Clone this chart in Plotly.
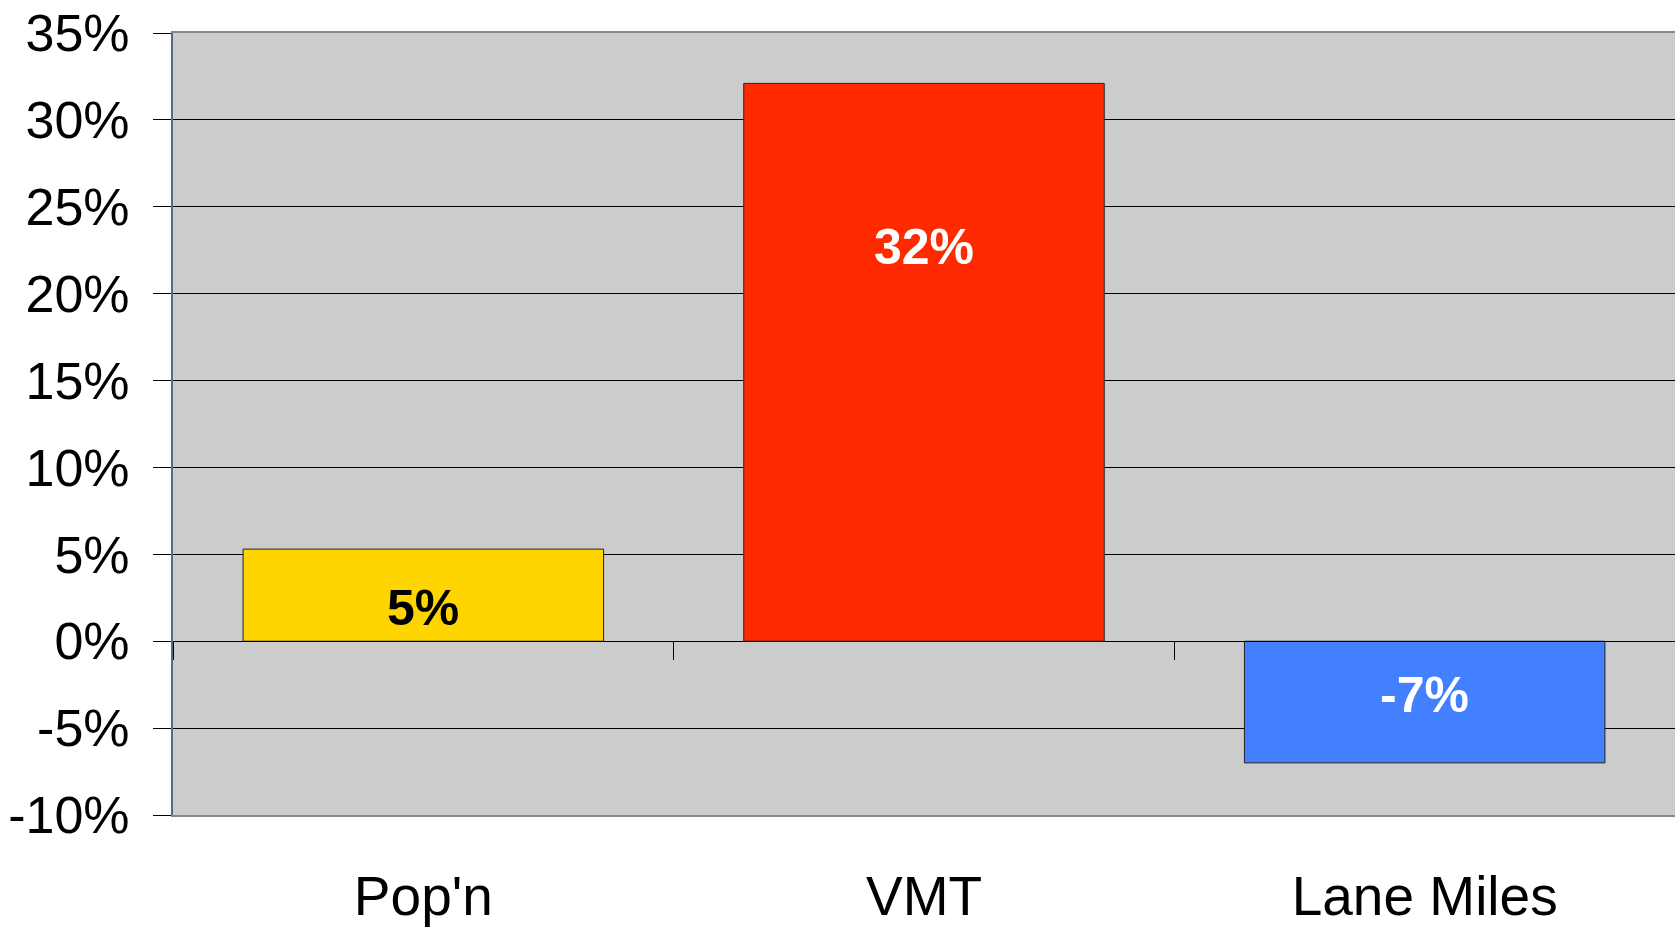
import plotly.graph_objects as go

categories = ["Pop'n", "VMT", "Lane Miles"]
values = [5.3, 32.1, -7.0]
value_labels = ["5%", "32%", "-7%"]
label_y = [1.9, 22.7, -3.1]
bar_colors = ["#FFD500", "#FF2A00", "#4380FF"]
label_colors = ["#000000", "#FFFFFF", "#FFFFFF"]
y_ticks = [-10, -5, 0, 5, 10, 15, 20, 25, 30, 35]
y_tick_text = ["-10%", "-5%", "0%", "5%", "10%", "15%", "20%", "25%", "30%", "35%"]

y_min, y_max = -10, 35
zero_pos = (0 - y_min) / (y_max - y_min)
x_range = [-0.5, 2.5]

fig = go.Figure()
fig.add_trace(go.Bar(
    x=categories, y=values, width=0.72,
    marker=dict(color=bar_colors, line=dict(color="#222222", width=1)),
    hoverinfo="skip", showlegend=False,
))
# invisible helper trace so the labelled bottom axis is drawn
fig.add_trace(go.Scatter(
    x=categories, y=values, xaxis="x2", mode="markers",
    marker=dict(opacity=0), hoverinfo="skip", showlegend=False,
))

for c, ly, t, col in zip(categories, label_y, value_labels, label_colors):
    fig.add_annotation(x=c, y=ly, text="<b>" + t + "</b>", showarrow=False,
                       font=dict(family="Liberation Sans", size=50, color=col),
                       xanchor="center", yanchor="middle")

fig.update_layout(
    width=1675, height=928, autosize=False,
    margin=dict(l=173, r=0, t=33, b=113, autoexpand=False),
    paper_bgcolor="white", plot_bgcolor="#CCCCCC",
    font=dict(family="Liberation Sans", color="black"),
    xaxis=dict(
        type="category", categoryorder="array", categoryarray=categories,
        range=x_range, anchor="free", position=zero_pos,
        showline=True, linecolor="black", linewidth=1,
        ticks="outside", tickson="boundaries", ticklen=18, tickcolor="black",
        showticklabels=False, showgrid=False, zeroline=False, automargin=False,
    ),
    xaxis2=dict(
        type="category", categoryorder="array", categoryarray=categories,
        range=x_range, overlaying="x", side="bottom", anchor="y",
        showline=True, mirror=True, linecolor="#888888", linewidth=2,
        ticks="outside", ticklen=32, tickcolor="rgba(0,0,0,0)",
        tickfont=dict(family="Liberation Sans", size=55, color="black"),
        showgrid=False, zeroline=False, automargin=False,
    ),
    yaxis=dict(
        range=[y_min, y_max], tickvals=y_ticks, ticktext=y_tick_text,
        tickfont=dict(family="Liberation Sans", size=52, color="black"),
        showgrid=True, gridcolor="black", gridwidth=1,
        showline=True, linecolor="#5A6A85", linewidth=2,
        ticks="outside", ticklen=18, tickcolor="black",
        ticklabelstandoff=13, zeroline=False, automargin=False,
    ),
)

fig.write_html(
    "out.html",
    config={"displayModeBar": False},
    post_script="document.body.style.margin='0';"
                "document.documentElement.style.overflow='hidden';",
)
